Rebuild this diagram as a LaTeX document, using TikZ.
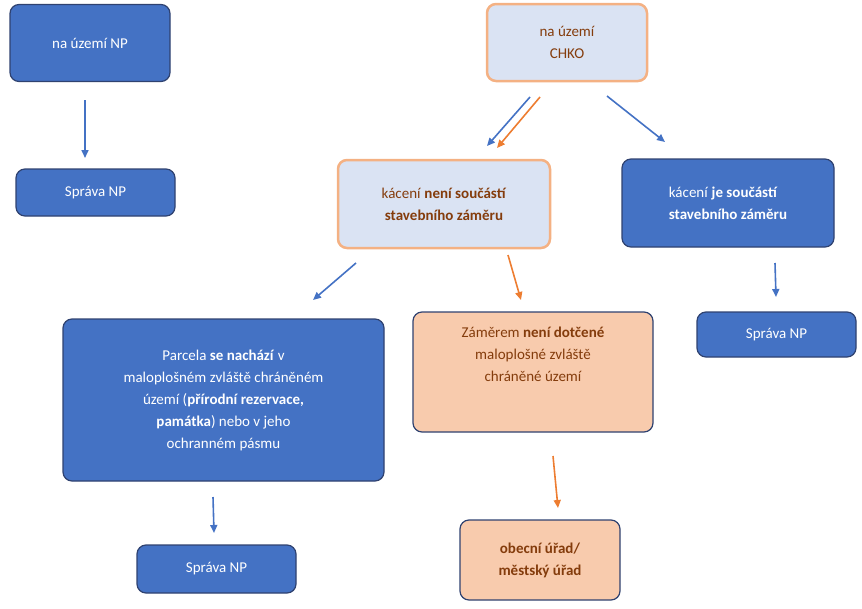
\documentclass[tikz,border=0pt]{standalone}
\usepackage{fontspec}
\setmainfont{Carlito}
\usetikzlibrary{arrows.meta}
\definecolor{bluefill}{HTML}{4472C4}
\definecolor{navy}{HTML}{2F4270}
\definecolor{lightfill}{HTML}{DAE3F3}
\definecolor{peach}{HTML}{F8CBAD}
\definecolor{orangeline}{HTML}{F4B183}
\definecolor{brown}{HTML}{843C0C}
\definecolor{arrorange}{HTML}{ED7D31}

\begin{document}
\begin{tikzpicture}[x=1pt,y=-1pt,
  box/.style={rounded corners=9pt,align=center,inner sep=4pt,
    font=\fontsize{15}{22}\selectfont},
  bluebox/.style={box,fill=bluefill,draw=navy,line width=1.2pt,text=white},
  lightbox/.style={box,fill=lightfill,draw=orangeline,line width=2.5pt,text=brown},
  peachbox/.style={box,fill=peach,draw=navy,line width=1.2pt,text=brown},
  barr/.style={draw=bluefill,line width=1.6pt,-{Triangle[length=8pt,width=7pt]}},
  oarr/.style={draw=arrorange,line width=1.6pt,-{Triangle[length=8pt,width=7pt]}}]
\useasboundingbox (0,0) rectangle (862,608);
% boxes
\node [bluebox,minimum width=160pt,minimum height=77pt] (np) at (90,43) {na území NP};
\node [bluebox,minimum width=159pt,minimum height=47pt] (spravaL) at (95.5,192.5) {Správa NP};
\node [lightbox,minimum width=160pt,minimum height=77pt] (chko) at (567,42.5) {na území\\CHKO};
\node [lightbox,minimum width=212pt,minimum height=88pt] (neni) at (444,204)
  {kácení \textbf{není součástí}\\\textbf{stavebního záměru}};
\node [bluebox,minimum width=212pt,minimum height=88pt,align=left] (je) at (728,203)
  {kácení \textbf{je součástí}\\\textbf{stavebního záměru}};
\node [bluebox,minimum width=159pt,minimum height=45pt] (spravaR) at (776.5,334.5) {Správa NP};
\node [bluebox,minimum width=321pt,minimum height=162pt] (parcela) at (223.5,400)
  {Parcela \textbf{se nachází} v\\maloplošném zvláště chráněném\\území (\textbf{přírodní rezervace,}\\\textbf{památka}) nebo v jeho\\ochranném pásmu};
\node [peachbox,minimum width=240pt,minimum height=120pt] (zamer) at (533,372)
  {Záměrem \textbf{není dotčené}\\maloplošné zvláště\\chráněné území\\[14pt]};
\node [bluebox,minimum width=159pt,minimum height=48pt] (spravaB) at (216.5,569) {Správa NP};
\node [peachbox,minimum width=160pt,minimum height=80pt] (urad) at (540,560)
  {\textbf{obecní úřad/}\\\textbf{městský úřad}};
% arrow ends
\coordinate (a1) at (85,100);  \coordinate (b1) at (85,158);
\coordinate (a2) at (530,97);  \coordinate (b2) at (487,146);
\coordinate (a3) at (540,97);  \coordinate (b3) at (497,148);
\coordinate (a4) at (607,96);  \coordinate (b4) at (665,142);
\coordinate (a5) at (356,263); \coordinate (b5) at (313,300);
\coordinate (a6) at (508,255); \coordinate (b6) at (521,300);
\coordinate (a7) at (775,263); \coordinate (b7) at (776,297);
\coordinate (a8) at (213,497); \coordinate (b8) at (214,533);
\coordinate (a9) at (553,456); \coordinate (b9) at (558,508);
% arrows
\draw [barr] (a1) -- (b1);
\draw [barr] (a2) -- (b2);
\draw [oarr] (a3) -- (b3);
\draw [barr] (a4) -- (b4);
\draw [barr] (a5) -- (b5);
\draw [oarr] (a6) -- (b6);
\draw [barr] (a7) -- (b7);
\draw [barr] (a8) -- (b8);
\draw [oarr] (a9) -- (b9);
\end{tikzpicture}
\end{document}
